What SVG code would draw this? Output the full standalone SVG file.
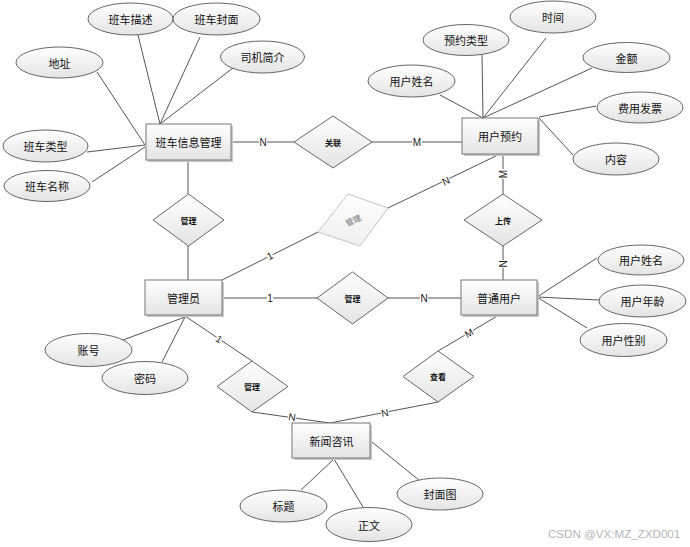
<svg xmlns="http://www.w3.org/2000/svg" width="690" height="547" viewBox="0 0 690 547">
<defs>
<linearGradient id="g" x1="0" y1="0" x2="0" y2="1">
<stop offset="0" stop-color="#ffffff"/>
<stop offset="1" stop-color="#e4e4e4"/>
</linearGradient>
<linearGradient id="gf" x1="0" y1="0" x2="0" y2="1">
<stop offset="0" stop-color="#ffffff"/>
<stop offset="1" stop-color="#efefef"/>
</linearGradient>
</defs>
<style>
.ent rect.b{fill:url(#g);stroke:#777;stroke-width:1}
.ent rect.s{fill:#c8c8c8;stroke:none}
.attr ellipse{fill:url(#g);stroke:#666;stroke-width:1}
.rel polygon{fill:url(#g);stroke:#666;stroke-width:1}
.faded polygon{fill:url(#gf);stroke:#c4c4c4;stroke-width:1}
.ln line{stroke:#555;stroke-width:1}
text{font-family:"Noto Sans CJK SC","Liberation Sans",sans-serif;fill:#111;text-anchor:middle;dominant-baseline:central}
.t{font-size:11px}
.r{font-size:8px;font-weight:bold}
.lb rect{fill:#fff}
.lb text{font-family:"Liberation Sans",sans-serif;font-size:10px;fill:#222}
.wm{font-family:"Liberation Sans",sans-serif;font-size:11.6px;fill:#b5b5b5;text-anchor:start}
</style>
<rect width="690" height="547" fill="#fff"/>
<g id="connectors" class="ln">
<line x1="97" y1="72" x2="145" y2="145"/>
<line x1="87" y1="152" x2="145" y2="145"/>
<line x1="92" y1="182" x2="145" y2="147"/>
<line x1="138" y1="35" x2="160" y2="124"/>
<line x1="200" y1="37" x2="160" y2="124"/>
<line x1="233" y1="68" x2="160" y2="124"/>
<line x1="440" y1="95" x2="483" y2="118"/>
<line x1="482" y1="55" x2="483" y2="118"/>
<line x1="546" y1="38" x2="483" y2="118"/>
<line x1="592" y1="68" x2="483" y2="118"/>
<line x1="596" y1="106" x2="539" y2="117"/>
<line x1="573" y1="155" x2="539" y2="118"/>
<line x1="537" y1="297" x2="597" y2="258"/>
<line x1="537" y1="297" x2="599" y2="300"/>
<line x1="537" y1="297" x2="587" y2="328"/>
<line x1="123" y1="340" x2="185" y2="317"/>
<line x1="162" y1="362" x2="185" y2="317"/>
<line x1="301" y1="490" x2="334" y2="459"/>
<line x1="363" y1="507" x2="334" y2="459"/>
<line x1="420" y1="481" x2="372" y2="442"/>
<line x1="231" y1="142" x2="294" y2="142"/>
<line x1="372" y1="142" x2="462" y2="142"/>
<line x1="188" y1="160" x2="188" y2="194"/>
<line x1="188" y1="246" x2="188" y2="280"/>
<line x1="222" y1="280" x2="318" y2="232"/>
<line x1="388" y1="208" x2="500" y2="154"/>
<line x1="503" y1="154" x2="503" y2="194"/>
<line x1="503" y1="246" x2="503" y2="280"/>
<line x1="222" y1="298" x2="317" y2="298"/>
<line x1="388" y1="298" x2="461" y2="298"/>
<line x1="185" y1="316" x2="252" y2="361"/>
<line x1="252" y1="412" x2="330" y2="423"/>
<line x1="438" y1="402" x2="330" y2="423"/>
<line x1="438" y1="351" x2="499" y2="315"/>
<g class="lb">
<g transform="translate(263,142)"><rect x="-4" y="-5" width="8" height="10"/><text>N</text></g>
<g transform="translate(417,142)"><rect x="-5" y="-5" width="10" height="10"/><text>M</text></g>
<g transform="translate(270,256) rotate(-26.6)"><rect x="-3" y="-5" width="6" height="10"/><text>1</text></g>
<g transform="translate(446,181) rotate(-25.7)"><rect x="-4" y="-5" width="8" height="10"/><text>N</text></g>
<g transform="translate(503,174) rotate(-90)"><rect x="-5" y="-5" width="10" height="10"/><text>M</text></g>
<g transform="translate(503,264) rotate(-90)"><rect x="-4" y="-5" width="8" height="10"/><text>N</text></g>
<g transform="translate(270,298)"><rect x="-3" y="-5" width="6" height="10"/><text>1</text></g>
<g transform="translate(424,298)"><rect x="-4" y="-5" width="8" height="10"/><text>N</text></g>
<g transform="translate(219,339) rotate(33)"><rect x="-3" y="-5" width="6" height="10"/><text>1</text></g>
<g transform="translate(292,417) rotate(8)"><rect x="-4" y="-5" width="8" height="10"/><text>N</text></g>
<g transform="translate(385,413) rotate(-11)"><rect x="-4" y="-5" width="8" height="10"/><text>N</text></g>
<g transform="translate(469,333) rotate(-30.5)"><rect x="-5" y="-5" width="10" height="10"/><text>M</text></g>
</g>
</g>
<g id="e_banche" class="ent"><rect class="s" x="148" y="126" width="85" height="36"/><rect class="b" x="146" y="124" width="85" height="36"/><text class="t" x="188.5" y="142">班车信息管理</text></g>
<g id="e_yuyue" class="ent"><rect class="s" x="464" y="120" width="76" height="36"/><rect class="b" x="462" y="118" width="76" height="36"/><text class="t" x="500" y="136">用户预约</text></g>
<g id="e_admin" class="ent"><rect class="s" x="147" y="282" width="77" height="35"/><rect class="b" x="145" y="280" width="77" height="35"/><text class="t" x="183.5" y="297.5">管理员</text></g>
<g id="e_user" class="ent"><rect class="s" x="463" y="282" width="76" height="35"/><rect class="b" x="461" y="280" width="76" height="35"/><text class="t" x="499" y="297.5">普通用户</text></g>
<g id="e_news" class="ent"><rect class="s" x="294" y="425" width="78" height="35"/><rect class="b" x="292" y="423" width="78" height="35"/><text class="t" x="331.5" y="440.5">新闻咨讯</text></g>
<g id="r_guanlian" class="rel"><polygon points="333,116 372,142 333,168 294,142"/><text class="r" x="333" y="142">关联</text></g>
<g id="r_guanli1" class="rel"><polygon points="188.5,194 224,220 188.5,246 153,220"/><text class="r" x="188.5" y="220">管理</text></g>
<g id="r_guanli_faded" class="faded"><polygon points="348,194 388,208 360,246 318,232"/><text class="r" x="353" y="220" style="fill:#9a9a9a" transform="rotate(-25 353 220)">管理</text></g>
<g id="r_shangchuan" class="rel"><polygon points="503,194 542,220 503,246 464,220"/><text class="r" x="503" y="220">上传</text></g>
<g id="r_guanli2" class="rel"><polygon points="352.5,272 388,298 352.5,324 317,298"/><text class="r" x="352.5" y="298">管理</text></g>
<g id="r_guanli3" class="rel"><polygon points="252,361 288,386.5 252,412 217,386.5"/><text class="r" x="252" y="386.5">管理</text></g>
<g id="r_chakan" class="rel"><polygon points="438,351 474,376.5 438,402 403,376.5"/><text class="r" x="438" y="376.5">查看</text></g>
<g id="a_miaoshu" class="attr"><ellipse cx="130.5" cy="19" rx="42.5" ry="16"/><text class="t" x="130.5" y="19">班车描述</text></g>
<g id="a_fengmian" class="attr"><ellipse cx="216.5" cy="19" rx="43.5" ry="16"/><text class="t" x="216.5" y="19">班车封面</text></g>
<g id="a_dizhi" class="attr"><ellipse cx="59.5" cy="62.5" rx="43.5" ry="15.5"/><text class="t" x="59.5" y="62.5">地址</text></g>
<g id="a_siji" class="attr"><ellipse cx="262.5" cy="57" rx="42" ry="16"/><text class="t" x="262.5" y="57">司机简介</text></g>
<g id="a_leixing" class="attr"><ellipse cx="45.5" cy="146" rx="42.5" ry="16"/><text class="t" x="45.5" y="146">班车类型</text></g>
<g id="a_mingcheng" class="attr"><ellipse cx="47" cy="186" rx="43" ry="15.5"/><text class="t" x="47" y="186">班车名称</text></g>
<g id="a_yylx" class="attr"><ellipse cx="466" cy="40" rx="43" ry="15.5"/><text class="t" x="466" y="40">预约类型</text></g>
<g id="a_shijian" class="attr"><ellipse cx="553" cy="17" rx="43" ry="16"/><text class="t" x="553" y="17">时间</text></g>
<g id="a_jine" class="attr"><ellipse cx="626.5" cy="57.5" rx="43.5" ry="15"/><text class="t" x="626.5" y="57.5">金额</text></g>
<g id="a_xm1" class="attr"><ellipse cx="411.5" cy="81" rx="43.5" ry="16"/><text class="t" x="411.5" y="81">用户姓名</text></g>
<g id="a_fapiao" class="attr"><ellipse cx="640" cy="107.5" rx="43" ry="15.5"/><text class="t" x="640" y="107.5">费用发票</text></g>
<g id="a_neirong" class="attr"><ellipse cx="616" cy="159" rx="43" ry="16"/><text class="t" x="616" y="159">内容</text></g>
<g id="a_xm2" class="attr"><ellipse cx="641" cy="260" rx="43" ry="15"/><text class="t" x="641" y="260">用户姓名</text></g>
<g id="a_nianling" class="attr"><ellipse cx="642.5" cy="301" rx="43.5" ry="16"/><text class="t" x="642.5" y="301">用户年龄</text></g>
<g id="a_xingbie" class="attr"><ellipse cx="623.5" cy="340" rx="43.5" ry="16.5"/><text class="t" x="623.5" y="340">用户性别</text></g>
<g id="a_zhanghao" class="attr"><ellipse cx="88.5" cy="350" rx="43.5" ry="16.5"/><text class="t" x="88.5" y="350">账号</text></g>
<g id="a_mima" class="attr"><ellipse cx="145" cy="378" rx="43" ry="16.5"/><text class="t" x="145" y="378">密码</text></g>
<g id="a_biaoti" class="attr"><ellipse cx="283.5" cy="506" rx="43.5" ry="16"/><text class="t" x="283.5" y="506">标题</text></g>
<g id="a_zhengwen" class="attr"><ellipse cx="369" cy="524.5" rx="43" ry="17"/><text class="t" x="369" y="524.5">正文</text></g>
<g id="a_fmt" class="attr"><ellipse cx="440" cy="494" rx="43" ry="16"/><text class="t" x="440" y="494">封面图</text></g>
<text class="wm" x="548" y="533">CSDN @VX:MZ_ZXD001</text>
</svg>
